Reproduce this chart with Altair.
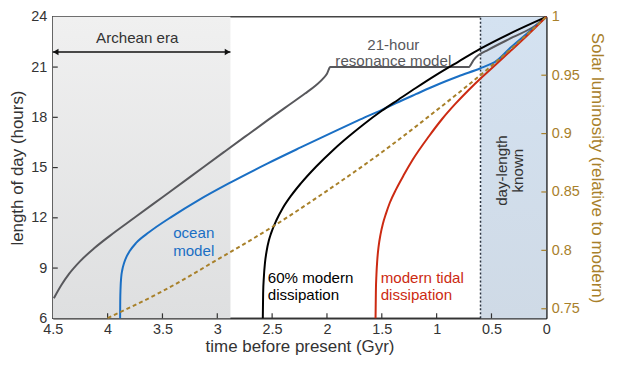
import altair as alt
import pandas as pd

# ---------------- data ----------------
gray_t = [4.49, 4.42, 4.35, 4.25, 4.12, 3.98, 3.75, 3.50, 3.25, 2.94, 2.75, 2.54, 2.35, 2.20, 2.10, 2.04, 2.00,
          1.97, 0.71, 0.66, 0.62, 0.53, 0.30, 0.105, 0.0]
gray_h = [7.2, 8.0, 8.665, 9.415, 10.195, 10.923, 12.03, 13.23, 14.43, 15.92, 16.83, 17.83, 18.72, 19.42, 19.92,
          20.28, 20.6, 21.0, 21.0, 21.45, 21.7, 22.03, 22.8, 23.45, 24.0]

blue_t = [3.886, 3.885, 3.882, 3.876, 3.866, 3.85, 3.826, 3.80, 3.74, 3.62, 3.41, 3.17, 2.90, 2.54, 2.24, 1.94,
          1.72, 1.50, 1.37, 1.19, 1.0, 0.80, 0.60, 0.50, 0.47, 0.32, 0.16, 0.0]
blue_h = [6.0, 7.0, 7.8, 8.45, 8.9, 9.3, 9.7, 10.0, 10.5, 11.15, 12.09, 13.06, 14.04, 15.25, 16.2, 17.13,
          17.8, 18.45, 18.85, 19.38, 19.93, 20.45, 20.93, 21.2, 21.3, 22.2, 23.1, 24.0]

black_t = [2.585, 2.582, 2.575, 2.565, 2.55, 2.53, 2.51, 2.46, 2.405, 2.325, 2.24, 2.10, 1.94, 1.80, 1.67, 1.50,
           1.35, 1.19, 1.007, 0.80, 0.60, 0.30, 0.0]
black_h = [6.0, 7.48, 8.5, 9.32, 10.02, 10.64, 11.07, 11.87, 12.56, 13.34, 14.04, 15.05, 16.07, 16.87, 17.56, 18.39,
           19.05, 19.75, 20.52, 21.33, 22.1, 23.1, 24.0]

red_t = [1.557, 1.554, 1.549, 1.541, 1.529, 1.512, 1.49, 1.462, 1.427, 1.37, 1.30, 1.22, 1.07, 0.95, 0.83, 0.71,
         0.59, 0.50, 0.32, 0.16, 0.0]
red_h = [6.0, 7.6, 8.6, 9.5, 10.3, 11.0, 11.65, 12.25, 12.9, 13.7, 14.55, 15.45, 16.87, 17.9, 18.8, 19.62,
         20.38, 20.92, 22.0, 22.98, 24.0]

lum_t = [4.0, 3.5, 3.0, 2.5, 2.0, 1.5, 1.0, 0.5, 0.0]
lum_v = [0.742, 0.765, 0.792, 0.820, 0.851, 0.884, 0.920, 0.958, 1.0]

series_names = ["21-hour resonance model", "ocean model", "60% modern dissipation", "modern tidal dissipation"]
series_colors = ["#58585c", "#1a6fc4", "#000000", "#cc2a12"]

x_ticks = [4.5, 4, 3.5, 3, 2.5, 2, 1.5, 1, 0.5, 0]
y_ticks = [6, 9, 12, 15, 18, 21, 24]
lum_ticks = [0.75, 0.8, 0.85, 0.9, 0.95, 1.0]

archean = {"x0": 4.5, "x1": 2.88, "y0": 6, "y1": 24}
known = {"x0": 0.6, "x1": 0.0, "y0": 6, "y1": 24}
arrow_h = 21.9

labels = [
    {"t": 3.73, "h": 22.71, "text": "Archean era", "color": "#333333", "align": "center", "lh": 18, "angle": 0},
    {"t": 1.395, "h": 22.32, "text": "21-hour\nresonance model", "color": "#58585c", "align": "center", "lh": 16.5, "angle": 0},
    {"t": 3.215, "h": 11.07, "text": "ocean\nmodel", "color": "#1a6fc4", "align": "center", "lh": 18, "angle": 0},
    {"t": 2.54, "h": 8.43, "text": "60% modern\ndissipation", "color": "#000000", "align": "left", "lh": 18, "angle": 0},
    {"t": 1.51, "h": 8.43, "text": "modern tidal\ndissipation", "color": "#cc2a12", "align": "left", "lh": 18, "angle": 0},
    {"t": 0.40, "h": 14.82, "text": "day-length\nknown", "color": "#333333", "align": "center", "lh": 15.5, "angle": 270},
]

# ---------------- build tables ----------------
rows = []
for name, ts, hs in zip(series_names, [gray_t, blue_t, black_t, red_t], [gray_h, blue_h, black_h, red_h]):
    for t, h in zip(ts, hs):
        rows.append({"series": name, "t": t, "h": h})
lines_df = pd.DataFrame(rows)
lum_df = pd.DataFrame({"t": lum_t, "L": lum_v})

FONT = "Liberation Sans"
GOLD = "#a8802a"
W, H = 496, 303
LBL, TTL = 14.5, 17

xscale = alt.Scale(domain=[4.5, 0], nice=False, zero=False)
yscale = alt.Scale(domain=[6, 24], nice=False, zero=False)
lscale = alt.Scale(domain=[0.7418, 1.0], nice=False, zero=False)

xaxis = alt.Axis(title="time before present (Gyr)", values=x_ticks, format=".1~f", ticks=False, tickSize=0,
                 labelFlush=False, labelOverlap=False, grid=False, labelPadding=4.5, titlePadding=2,
                 labelFontSize=LBL, titleFontSize=TTL, labelColor="#333333", titleColor="#333333",
                 titleFontWeight="normal", domainColor="#333333", domainWidth=1.5)
yaxis = alt.Axis(title="length of day (hours)", values=y_ticks, format="d", ticks=False, tickSize=0,
                 labelFlush=False, labelOverlap=False, grid=False, labelPadding=6, titlePadding=4.5,
                 labelFontSize=LBL, titleFontSize=TTL, labelColor="#333333", titleColor="#333333",
                 titleFontWeight="normal", domainColor="#333333", domainWidth=1.5)
laxis = alt.Axis(title="Solar luminosity (relative to modern)", orient="right", values=lum_ticks, format=".2~f",
                 ticks=False, tickSize=0, labelFlush=False, labelOverlap=False, grid=False, labelPadding=5,
                 titlePadding=8, labelFontSize=LBL, titleFontSize=TTL, labelColor=GOLD, titleColor=GOLD,
                 titleFontWeight="normal", domainColor="#111111", domainWidth=1.5)


def X(field):
    return alt.X(f"{field}:Q", scale=xscale, axis=xaxis)


def Y(field):
    return alt.Y(f"{field}:Q", scale=yscale, axis=yaxis)


gray_grad = alt.Gradient(gradient="linear",
                         stops=[alt.GradientStop(color="#f0f0f0", offset=0),
                                alt.GradientStop(color="#dedfe0", offset=1)],
                         x1=0, x2=0, y1=0, y2=1)
blue_grad = alt.Gradient(gradient="linear",
                         stops=[alt.GradientStop(color="#d4e2f1", offset=0),
                                alt.GradientStop(color="#cfdae6", offset=1)],
                         x1=0, x2=0, y1=0, y2=1)

arch_rect = alt.Chart(pd.DataFrame([archean])).mark_rect(fill=gray_grad).encode(
    x=X("x0"), x2="x1:Q", y=Y("y0"), y2="y1:Q")
known_rect = alt.Chart(pd.DataFrame([known])).mark_rect(fill=blue_grad).encode(
    x=X("x0"), x2="x1:Q", y=Y("y0"), y2="y1:Q")
known_line = alt.Chart(pd.DataFrame([known])).mark_rule(color="#2a3340", strokeWidth=1.5, strokeDash=[2, 2]).encode(
    x=X("x0"), y=Y("y0"), y2="y1:Q")

lines = alt.Chart(lines_df).mark_line(strokeWidth=2, interpolate="monotone").encode(
    x=X("t"), y=Y("h"),
    color=alt.Color("series:N", scale=alt.Scale(domain=series_names, range=series_colors), legend=None),
    order=alt.Order("t:Q", sort="descending"))

arrow_df = pd.DataFrame([{"a": archean["x0"], "b": archean["x1"], "h": arrow_h}])
arrow_rule = alt.Chart(arrow_df).mark_rule(color="#111111", strokeWidth=1.5).encode(
    x=X("a"), x2="b:Q", y=Y("h"))
head_l = alt.Chart(arrow_df).mark_point(shape="triangle-left", filled=True, color="#111111", size=40, opacity=1,
                                        xOffset=3).encode(x=X("a"), y=Y("h"))
head_r = alt.Chart(arrow_df).mark_point(shape="triangle-right", filled=True, color="#111111", size=40, opacity=1,
                                        xOffset=-3).encode(x=X("b"), y=Y("h"))

text_layers = []
for lab in labels:
    text_layers.append(
        alt.Chart(pd.DataFrame([lab])).mark_text(
            font=FONT, fontSize=15.2, color=lab["color"], align=lab["align"], baseline="middle",
            lineBreak="\n", lineHeight=lab["lh"], angle=lab["angle"]
        ).encode(x=X("t"), y=Y("h"), text="text:N")
    )

left_ticks = alt.Chart(pd.DataFrame({"v": y_ticks[1:-1]})).mark_rule(color="#333333", strokeWidth=1.2).encode(
    y=Y("v"), x=alt.value(0), x2=alt.value(5))
bottom_ticks = alt.Chart(pd.DataFrame({"v": x_ticks[1:-1]})).mark_rule(color="#333333", strokeWidth=1.2).encode(
    x=X("v"), y=alt.value(H), y2=alt.value(H - 5))

left_layer = alt.layer(arch_rect, known_rect, known_line, lines, arrow_rule, head_l, head_r,
                       *text_layers, left_ticks, bottom_ticks)

lum_line = alt.Chart(lum_df).mark_line(color=GOLD, strokeWidth=2, strokeDash=[4, 3], interpolate="monotone").encode(
    x=X("t"), y=alt.Y("L:Q", scale=lscale, axis=laxis), order=alt.Order("t:Q", sort="descending"))
right_ticks = alt.Chart(pd.DataFrame({"v": lum_ticks[:-1]})).mark_rule(color=GOLD, strokeWidth=1.2).encode(
    y=alt.Y("v:Q", scale=lscale, axis=laxis), x=alt.value(W), x2=alt.value(W - 5))
right_layer = alt.layer(lum_line, right_ticks)

chart = alt.layer(left_layer, right_layer).resolve_scale(y="independent").properties(
    width=W, height=H, padding={"left": 0, "top": 0, "right": 3, "bottom": 1}
).configure(font=FONT).configure_view(stroke="#444444", strokeWidth=1.5).configure_axis(
    labelFont=FONT, titleFont=FONT)

chart.save("out.html", embed_options={"renderer": "svg", "actions": False})
